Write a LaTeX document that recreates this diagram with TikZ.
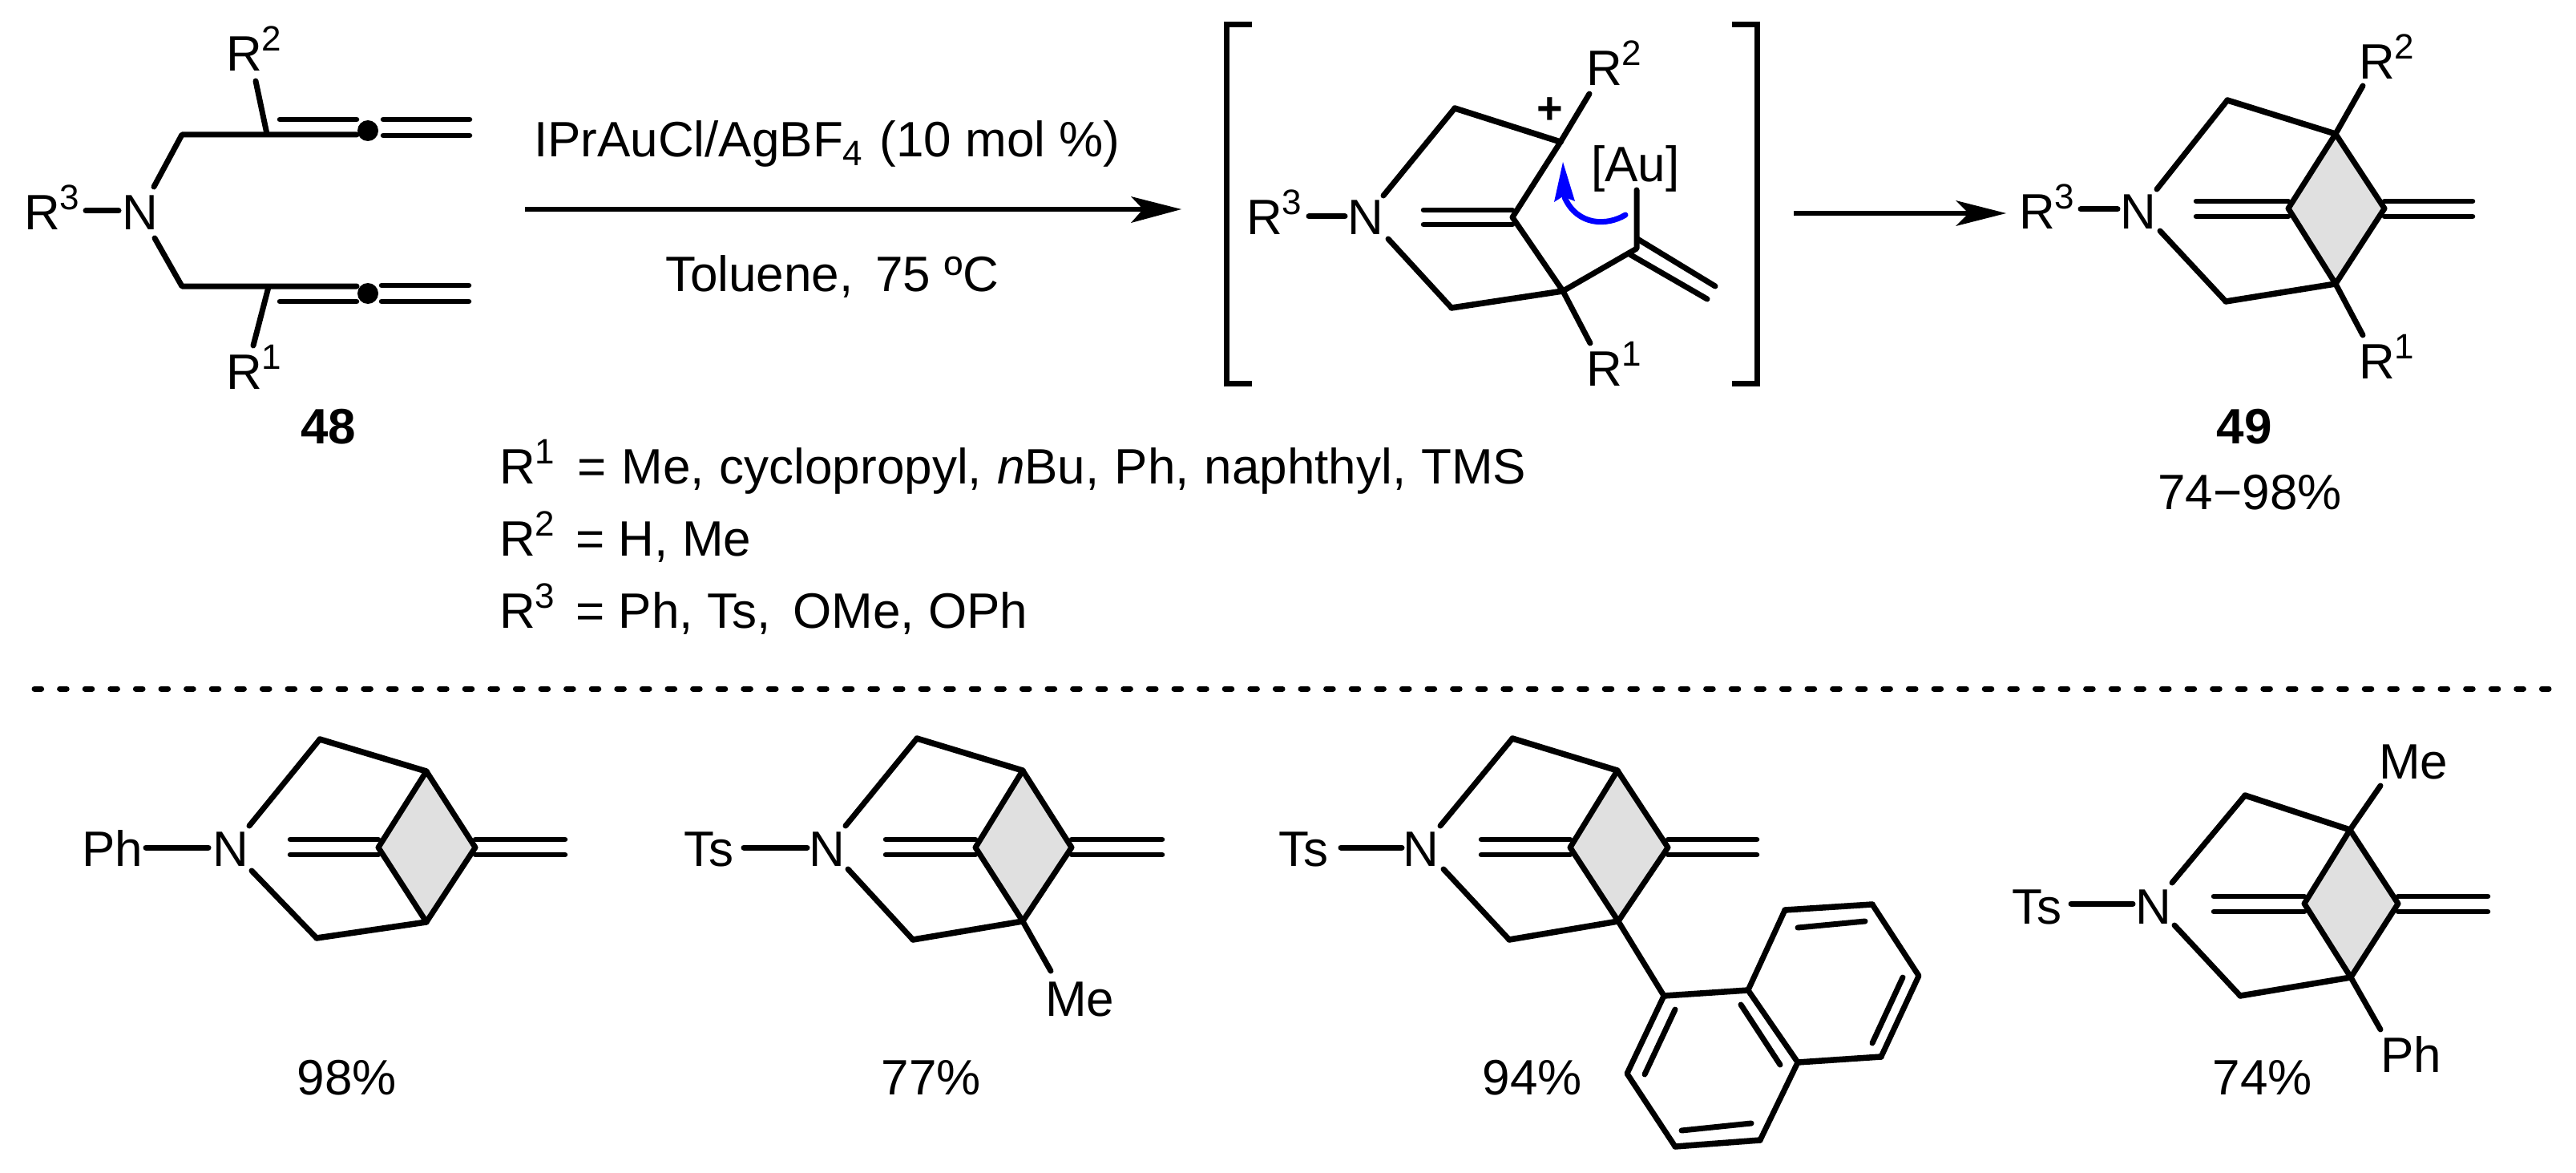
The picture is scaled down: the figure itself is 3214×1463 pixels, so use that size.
\documentclass[tikz,border=0pt]{standalone}
\usepackage{fontspec}
\setmainfont{Liberation Sans}
\newcommand\chemsize{\fontsize{62}{65}\selectfont}
\newcommand\supdigit[1]{\raisebox{25pt}{\fontsize{44}{44}\selectfont #1}}
\newcommand\subdigit[1]{\raisebox{-11pt}{\fontsize{44}{44}\selectfont #1}}
\newcommand\Rgrp[1]{R\supdigit{#1}}
\definecolor{pushblue}{RGB}{0,0,255}
\tikzset{
  x=1pt,y=-1pt,
  bond/.style={line width=7pt,line cap=round,line join=round,black},
  dblbond/.style={line width=6.5pt,line cap=round,black},
  boldbond/.style={line width=7.5pt,line cap=round,line join=round,black},
  lbl/.style={inner sep=0pt,outer sep=0pt,anchor=base west,font=\chemsize,text=black},
  clbl/.style={inner sep=0pt,outer sep=0pt,anchor=base,font=\chemsize,text=black},
  bracketline/.style={line width=7pt,line cap=butt,line join=miter,black},
  rxnline/.style={line width=6pt,black},
  headfill/.style={fill=black,draw=none},
  bridgefill/.style={fill=black!12,draw=none},
  divider/.style={line width=7pt,line cap=round,dash pattern=on 8.6pt off 23pt,black},
}
% #1 prefix, #2 N-up end, #3 upper CH2, #4 top, #5 left, #6 bottom, #7 right, #8 lower CH2, #9 N-down end
\newcommand\bicyc[9]{
  \coordinate (#1-nu) at #2; \coordinate (#1-a) at #3; \coordinate (#1-t) at #4;
  \coordinate (#1-l) at #5;  \coordinate (#1-b) at #6; \coordinate (#1-r) at #7;
  \coordinate (#1-c) at #8;  \coordinate (#1-nd) at #9;
  \fill[bridgefill] (#1-t) -- (#1-l) -- (#1-b) -- (#1-r) -- cycle;
  \draw[bond] (#1-t) -- (#1-l) -- (#1-b) -- (#1-r) -- cycle;
  \draw[bond] (#1-nu) -- (#1-a);
  \draw[bond] (#1-nd) -- (#1-c);
  \draw[boldbond] (#1-a) -- (#1-t);
  \draw[boldbond] (#1-c) -- (#1-b);
}
% #1 prefix, #2 far left x, #3 left x, #4 right x, #5 far right x, #6 y1, #7 y2
\newcommand\exobonds[7]{
  \coordinate (#1-la) at (#2,#6); \coordinate (#1-lb) at (#3,#6);
  \coordinate (#1-lc) at (#2,#7); \coordinate (#1-ld) at (#3,#7);
  \coordinate (#1-ra) at (#4,#6); \coordinate (#1-rb) at (#5,#6);
  \coordinate (#1-rc) at (#4,#7); \coordinate (#1-rd) at (#5,#7);
  \draw[dblbond] (#1-la) -- (#1-lb);
  \draw[dblbond] (#1-lc) -- (#1-ld);
  \draw[dblbond] (#1-ra) -- (#1-rb);
  \draw[dblbond] (#1-rc) -- (#1-rd);
}
\begin{document}
\begin{tikzpicture}
\useasboundingbox (0,0) rectangle (3214,1463);

% ---- 48
\node[lbl] (s-r3) at (30,287) {\Rgrp{3}};
\node[lbl] (s-n) at (152,287) {N};
\node[lbl] (s-r2) at (282,89) {\Rgrp{2}};
\node[lbl] (s-r1) at (282,485) {\Rgrp{1}};
\node[clbl,font=\chemsize\bfseries] (s-id) at (410,553) {48};
\coordinate (s-b3a) at (107,263); \coordinate (s-b3b) at (148,263);
\coordinate (s-nu) at (192,233); \coordinate (s-nd) at (193,297);
\coordinate (s-u) at (227,168); \coordinate (s-d) at (227,357);
\coordinate (s-ud) at (459,163); \coordinate (s-dd) at (459,366);
\coordinate (s-uq) at (333,167); \coordinate (s-dq) at (335,358);
\coordinate (s-r2b) at (319,101); \coordinate (s-r1b) at (316,431);
\draw[bond] (s-b3a) -- (s-b3b);
\draw[bond] (s-nu) -- (s-u) -- (445,168);
\draw[bond] (s-nd) -- (s-d) -- (445,357);
\draw[bond] (s-r2b) -- (s-uq);
\draw[bond] (s-r1b) -- (s-dq);
\draw[dblbond] (349,149) -- (445,149);
\draw[dblbond] (349,376) -- (445,376);
\draw[dblbond] (478,149) -- (586,149);
\draw[dblbond] (478,169) -- (586,169);
\draw[dblbond] (476,356) -- (585,356);
\draw[dblbond] (476,376) -- (585,376);
\fill (s-ud) circle (13);
\fill (s-dd) circle (13);

% ---- first arrow and conditions
\node[lbl] (c-top) at (666,196) {IPrAuCl/AgBF\subdigit{4}\hspace{4pt} (10 mol \%)};
\node[lbl] (c-bot) at (830,363) {Toluene,\hspace{28pt}75 ºC};
\coordinate (ar1-s) at (655,261); \coordinate (ar1-e) at (1474,261);
\draw[rxnline] (ar1-s) -- (1430,261);
\fill[headfill] (ar1-e) -- (1411,245) -- (1426,261) -- (1411,278) -- cycle;

\node[lbl] (l-r1) at (623,603) {\spaceskip=19pt \Rgrp{1}\hspace{9pt} = Me, cyclopropyl, \textit{n}Bu, Ph, naphthyl, TMS};
\node[lbl] (l-r2) at (623,693) {\Rgrp{2}\hspace{9pt} = H, Me};
\node[lbl] (l-r3) at (623,783) {\Rgrp{3}\hspace{9pt} = Ph, Ts,\hspace{28pt}OMe, OPh};

% ---- intermediate
\coordinate (br-l1) at (1562,31); \coordinate (br-l2) at (1530,31);
\coordinate (br-l3) at (1530,478); \coordinate (br-l4) at (1562,478);
\coordinate (br-r1) at (2161,31); \coordinate (br-r2) at (2192,31);
\coordinate (br-r3) at (2192,478); \coordinate (br-r4) at (2161,478);
\draw[bracketline] (br-l1) -- (br-l2) -- (br-l3) -- (br-l4);
\draw[bracketline] (br-r1) -- (br-r2) -- (br-r3) -- (br-r4);
\node[lbl] (i-r3) at (1555,293) {\Rgrp{3}};
\node[lbl] (i-n) at (1681,293) {N};
\node[lbl] (i-r2) at (1979,107) {\Rgrp{2}};
\node[lbl] (i-r1) at (1979,481) {\Rgrp{1}};
\node[lbl] (i-au) at (1985,227) {[Au]};
\node[inner sep=0pt,font=\fontsize{56}{56}\selectfont\bfseries] (i-plus) at (1934,138) {+};
\coordinate (i-p) at (1815,135); \coordinate (i-q) at (1947,177);
\coordinate (i-m) at (1887,271); \coordinate (i-s) at (1950,363);
\coordinate (i-w) at (1811,384); \coordinate (i-v) at (2042,310);
\draw[bond] (1633,270) -- (1678,270);
\draw[bond] (1726,244) -- (i-p);
\draw[bond] (1732,298) -- (i-w);
\draw[boldbond] (i-p) -- (i-q);
\draw[boldbond] (i-w) -- (i-s);
\draw[bond] (i-q) -- (i-m) -- (i-s) -- (i-v) -- (2042,237);
\draw[bond] (i-q) -- (1983,117);
\draw[bond] (i-s) -- (1984,428);
\draw[dblbond] (1776,262) -- (1887,262);
\draw[dblbond] (1776,280) -- (1887,280);
\draw[bond] (2043,298) -- (2140,357);
\draw[bond] (2033,317) -- (2130,373);
% curved electron-push arrow
\draw[line width=7pt,pushblue,line cap=round] (2028,268) .. controls (2005,282) and (1968,282) .. (1952,246);
\fill[pushblue] (1950,202) -- (1965,251) -- (1950,245) -- (1939,252) -- cycle;

% ---- second arrow
\coordinate (ar2-s) at (2238,266); \coordinate (ar2-e) at (2503,266);
\draw[rxnline] (ar2-s) -- (2460,266);
\fill[headfill] (ar2-e) -- (2440,250) -- (2456,266) -- (2440,282) -- cycle;

% ---- 49
\node[lbl] (p-r3) at (2519,286) {\Rgrp{3}};
\node[lbl] (p-n) at (2645,286) {N};
\node[lbl] (p-r2) at (2943,99) {\Rgrp{2}};
\node[lbl] (p-r1) at (2943,472) {\Rgrp{1}};
\node[clbl,font=\chemsize\bfseries] (p-id) at (2800,553) {49};
\node[clbl] (p-yield) at (2807,635) {74−98\%};
\draw[bond] (2596,261) -- (2642,261);
\bicyc{P}{(2691,236)}{(2779,125)}{(2914,167)}{(2855,260)}{(2914,354)}{(2975,260)}{(2777,376)}{(2695,288)}
\exobonds{P}{2740}{2855}{2975}{3085}{251}{270}
\draw[bond] (P-t) -- (2948,107);
\draw[bond] (P-b) -- (2948,418);

% ---- divider
\coordinate (div-a) at (43,859); \coordinate (div-b) at (3190,859);
\draw[divider] (div-a) -- (div-b);

% ---- A: Ph
\node[lbl] (a-ph) at (102,1080) {Ph};
\node[lbl] (a-n) at (265,1080) {N};
\node[clbl] (a-y) at (433,1365) {98\%};
\draw[bond] (182,1057) -- (260,1057);
\bicyc{A}{(311,1030)}{(399,922)}{(532,962)}{(472,1057)}{(532,1150)}{(593,1057)}{(395,1170)}{(314,1086)}
\exobonds{A}{362}{472}{593}{705}{1047}{1066}

% ---- B: Ts, Me
\node[lbl] (b-ts) at (853,1080) {Ts};
\node[lbl] (b-n) at (1009,1080) {N};
\node[lbl] (b-me) at (1304,1267) {Me};
\node[clbl] (b-y) at (1162,1365) {77\%};
\draw[bond] (928,1057) -- (1007,1057);
\bicyc{B}{(1055,1030)}{(1144,921)}{(1276,961)}{(1217,1057)}{(1276,1149)}{(1337,1057)}{(1139,1172)}{(1058,1084)}
\exobonds{B}{1105}{1217}{1337}{1450}{1047}{1066}
\draw[bond] (B-b) -- (1311,1211);

% ---- C: Ts, naphthyl
\node[lbl] (cc-ts) at (1595,1080) {Ts};
\node[lbl] (cc-n) at (1750,1080) {N};
\node[clbl] (cc-y) at (1912,1365) {94\%};
\draw[bond] (1673,1057) -- (1749,1057);
\bicyc{C}{(1797,1030)}{(1887,921)}{(2018,961)}{(1959,1057)}{(2019,1149)}{(2081,1057)}{(1883,1172)}{(1801,1084)}
\exobonds{C}{1848}{1959}{2081}{2192}{1047}{1066}
\coordinate (n-a) at (2076,1242); \coordinate (n-b) at (2181,1235);
\coordinate (n-c) at (2227,1135); \coordinate (n-d) at (2336,1128);
\coordinate (n-e) at (2394,1217); \coordinate (n-f) at (2347,1318);
\coordinate (n-g) at (2243,1325); \coordinate (n-h) at (2196,1422);
\coordinate (n-i) at (2090,1430); \coordinate (n-j) at (2030,1339);
\draw[bond] (C-b) -- (n-a);
\draw[bond] (n-a) -- (n-j) -- (n-i);
\draw[bond] (n-h) -- (n-g) -- (n-b) -- (n-c);
\draw[bond] (n-d) -- (n-e) -- (n-f);
\draw[boldbond] (n-a) -- (n-b);
\draw[boldbond] (n-c) -- (n-d);
\draw[boldbond] (n-f) -- (n-g);
\draw[boldbond] (n-h) -- (n-i);
\draw[bond] (2243,1157) -- (2327,1149);
\draw[bond] (2374,1219) -- (2336,1301);
\draw[bond] (2172,1253) -- (2221,1328);
\draw[bond] (2090,1259) -- (2052,1340);
\draw[bond] (2098,1410) -- (2185,1401);

% ---- D: Ts, Me, Ph
\node[lbl] (d-ts) at (2510,1152) {Ts};
\node[lbl] (d-n) at (2664,1152) {N};
\node[lbl] (d-me) at (2968,971) {Me};
\node[lbl] (d-ph) at (2970,1337) {Ph};
\node[clbl] (d-y) at (2823,1365) {74\%};
\draw[bond] (2584,1127) -- (2661,1127);
\bicyc{D}{(2710,1101)}{(2801,992)}{(2932,1035)}{(2875,1127)}{(2933,1219)}{(2992,1127)}{(2795,1242)}{(2713,1154)}
\exobonds{D}{2762}{2875}{2992}{3104}{1118}{1137}
\draw[bond] (D-t) -- (2970,980);
\draw[bond] (D-b) -- (2970,1284);
\end{tikzpicture}
\end{document}
